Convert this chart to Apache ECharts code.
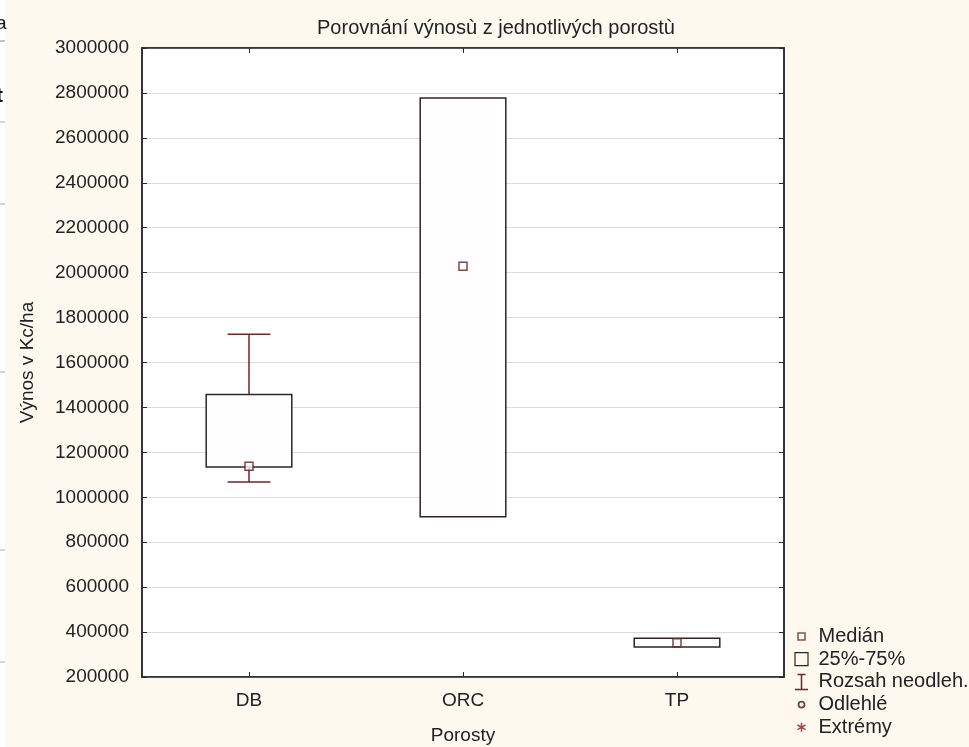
<!DOCTYPE html>
<html>
<head>
<meta charset="utf-8">
<script src="https://cdn.jsdelivr.net/npm/echarts@6/dist/echarts.min.js"></script>
<style>
html,body{margin:0;padding:0;background:#fdf9ee;}
#chart{width:969px;height:747px;}
</style>
</head>
<body>
<div id="chart"></div>
<script>
// ---- data ----
var categories = ['DB', 'ORC', 'TP'];
var whiskerLow = [1068000, 913000, 333000];
var q1 = [1135000, 913000, 333000];
var median = [1138000, 2028000, 353000];
var q3 = [1458000, 2777000, 373000];
var whiskerHigh = [1726000, 2777000, 373000];
var outliers = [];
var extremes = [];
var yTicks = { min: 200000, max: 3000000, step: 200000 };

var boxData = categories.map(function (c, i) {
  return [i, whiskerLow[i], q1[i], q3[i], whiskerHigh[i]];
});
var medianData = categories.map(function (c, i) { return [i, median[i]]; });

var FONT = 'Liberation Sans, Arial, sans-serif';
var TXT = '#222';
var BOXC = '#2e2626';
var WHC = '#6e2626';

var chart = echarts.init(document.getElementById('chart'));

function renderWhisker(params, api) {
  var x = api.value(0);
  var lo = api.coord([x, api.value(1)]);
  var b1 = api.coord([x, api.value(2)]);
  var b3 = api.coord([x, api.value(3)]);
  var hi = api.coord([x, api.value(4)]);
  var w = api.size([1, 0])[0] * 0.4;
  var cw = w / 2;
  var st = { stroke: WHC, lineWidth: 1.5, fill: null };
  var ch = [];
  if (api.value(1) < api.value(2)) {
    ch.push({ type: 'line', shape: { x1: lo[0], y1: lo[1], x2: b1[0], y2: b1[1] }, style: st });
    ch.push({ type: 'line', shape: { x1: lo[0] - cw / 2, y1: lo[1], x2: lo[0] + cw / 2, y2: lo[1] }, style: st });
  }
  if (api.value(4) > api.value(3)) {
    ch.push({ type: 'line', shape: { x1: hi[0], y1: hi[1], x2: b3[0], y2: b3[1] }, style: st });
    ch.push({ type: 'line', shape: { x1: hi[0] - cw / 2, y1: hi[1], x2: hi[0] + cw / 2, y2: hi[1] }, style: st });
  }
  return { type: 'group', children: ch };
}

function renderBox(params, api) {
  var x = api.value(0);
  var b1 = api.coord([x, api.value(2)]);
  var b3 = api.coord([x, api.value(3)]);
  var w = api.size([1, 0])[0] * 0.4;
  return {
    type: 'rect',
    shape: { x: b1[0] - w / 2, y: b3[1], width: w, height: b1[1] - b3[1] },
    style: { fill: '#fffdfd', stroke: BOXC, lineWidth: 1.5 }
  };
}

var option = {
  backgroundColor: '#fdf9ee',
  animation: false,
  title: {
    text: 'Porovnání výnosù z jednotlivých porostù',
    left: 491, top: 13, textAlign: 'center',
    textStyle: { fontFamily: FONT, fontSize: 20, fontWeight: 'normal', color: TXT }
  },
  legend: {
    orient: 'vertical', left: 791, top: 626, bottom: 0, padding: 0,
    itemWidth: 20, itemHeight: 16, itemGap: 1.7,
    selectedMode: false,
    textStyle: { fontFamily: FONT, fontSize: 20, lineHeight: 20, color: TXT },
    data: [
      { name: 'Medián', icon: 'path://M0 0M20 16M4.5 4.5h7v7h-7z',
        itemStyle: { color: 'none', borderColor: WHC, borderWidth: 1.5 } },
      { name: '25%-75%', icon: 'path://M0 0M20 16M1.5 1.5h13v13h-13z',
        itemStyle: { color: 'none', borderColor: BOXC, borderWidth: 1.2 } },
      { name: 'Rozsah neodleh.', icon: 'path://M0 0M20 16M4 0.5H12M8 0.5V15.5M1.5 15.5H14.5',
        itemStyle: { color: 'none', borderColor: WHC, borderWidth: 1.5 } },
      { name: 'Odlehlé', icon: 'path://M0 0M20 16M5 8a3 3 0 1 0 6 0a3 3 0 1 0 -6 0z',
        itemStyle: { color: 'none', borderColor: '#3a2020', borderWidth: 1.8 } },
      { name: 'Extrémy', icon: 'path://M0 0M20 16M8 3.5V12.5M4 5.7L12 10.3M4 10.3L12 5.7',
        itemStyle: { color: 'none', borderColor: '#8a2020', borderWidth: 1.6 } }
    ]
  },
  grid: {
    left: 142, top: 48, right: 185, bottom: 70, outerBoundsMode: 'none',
    show: true, backgroundColor: '#ffffff', borderColor: '#2a2a2a', borderWidth: 1.5
  },
  xAxis: [
    {
      type: 'category', data: categories, boundaryGap: true,
      name: 'Porosty', nameLocation: 'middle', nameGap: 49,
      nameTextStyle: { fontFamily: FONT, fontSize: 19, color: TXT },
      axisLine: { show: true, lineStyle: { color: '#2a2a2a', width: 1.5 } },
      axisTick: { show: true, inside: true, alignWithLabel: true, length: 5, lineStyle: { color: '#2a2a2a' } },
      axisLabel: { margin: 14, fontFamily: FONT, fontSize: 19, color: TXT },
      splitLine: { show: false }
    },
    {
      type: 'category', data: categories, boundaryGap: true, position: 'top',
      axisLine: { show: true, lineStyle: { color: '#2a2a2a', width: 1.5 } },
      axisTick: { show: true, inside: true, alignWithLabel: true, length: 5, lineStyle: { color: '#2a2a2a' } },
      axisLabel: { show: false }, splitLine: { show: false }
    }
  ],
  yAxis: [
    {
      type: 'value', min: yTicks.min, max: yTicks.max, interval: yTicks.step,
      name: 'Výnos v Kc/ha', nameLocation: 'middle', nameGap: 105,
      nameTextStyle: { fontFamily: FONT, fontSize: 19, color: TXT },
      axisLine: { show: true, lineStyle: { color: '#2a2a2a', width: 1.5 } },
      axisTick: { show: true, inside: true, length: 5, lineStyle: { color: '#2a2a2a' } },
      axisLabel: { margin: 13, fontFamily: FONT, fontSize: 19, color: TXT,
        formatter: function (v) { return String(v); } },
      splitLine: { show: true, lineStyle: { color: '#dcdcdc', width: 1 } }
    },
    {
      type: 'value', min: yTicks.min, max: yTicks.max, interval: yTicks.step, position: 'right',
      axisLine: { show: true, lineStyle: { color: '#2a2a2a', width: 1.5 } },
      axisTick: { show: true, inside: true, length: 5, lineStyle: { color: '#2a2a2a' } },
      axisLabel: { show: false }, splitLine: { show: false }
    }
  ],
  series: [
    {
      name: 'Rozsah neodleh.', type: 'custom', renderItem: renderWhisker,
      data: boxData, encode: { x: 0, y: [1, 2, 3, 4] }, z: 2,
      itemStyle: { color: WHC }
    },
    {
      name: '25%-75%', type: 'custom', renderItem: renderBox,
      data: boxData, encode: { x: 0, y: [1, 2, 3, 4] }, z: 3,
      itemStyle: { color: BOXC }
    },
    {
      name: 'Medián', type: 'scatter', data: medianData, z: 4,
      symbol: 'rect', symbolSize: 8,
      itemStyle: { color: '#ffffff', borderColor: '#5a1a1a', borderWidth: 1.5 }
    },
    { name: 'Odlehlé', type: 'scatter', data: outliers, itemStyle: { color: '#3a2020' } },
    { name: 'Extrémy', type: 'scatter', data: extremes, itemStyle: { color: '#8a2020' } }
  ],
  graphic: [
    { type: 'rect', shape: { x: 0, y: 0, width: 5, height: 747 }, style: { fill: '#ffffff' }, silent: true },
    { type: 'text', x: -4, y: 14, style: { text: 'a', fontFamily: FONT, fontSize: 19, fill: '#111' } },
    { type: 'text', x: -4, y: 86, style: { text: 't', fontFamily: FONT, fontSize: 21, fontWeight: 'bold', fill: '#111' } },
    { type: 'line', shape: { x1: 0, y1: 41, x2: 5, y2: 41 }, style: { stroke: '#888', lineWidth: 1 } },
    { type: 'line', shape: { x1: 0, y1: 122, x2: 5, y2: 122 }, style: { stroke: '#aaa', lineWidth: 1 } },
    { type: 'line', shape: { x1: 0, y1: 204, x2: 5, y2: 204 }, style: { stroke: '#aaa', lineWidth: 1 } },
    { type: 'line', shape: { x1: 0, y1: 372, x2: 5, y2: 372 }, style: { stroke: '#aaa', lineWidth: 1 } },
    { type: 'line', shape: { x1: 0, y1: 550, x2: 5, y2: 550 }, style: { stroke: '#aaa', lineWidth: 1 } },
    { type: 'line', shape: { x1: 0, y1: 662, x2: 5, y2: 662 }, style: { stroke: '#aaa', lineWidth: 1 } }
  ]
};
chart.setOption(option);
</script>
</body>
</html>
